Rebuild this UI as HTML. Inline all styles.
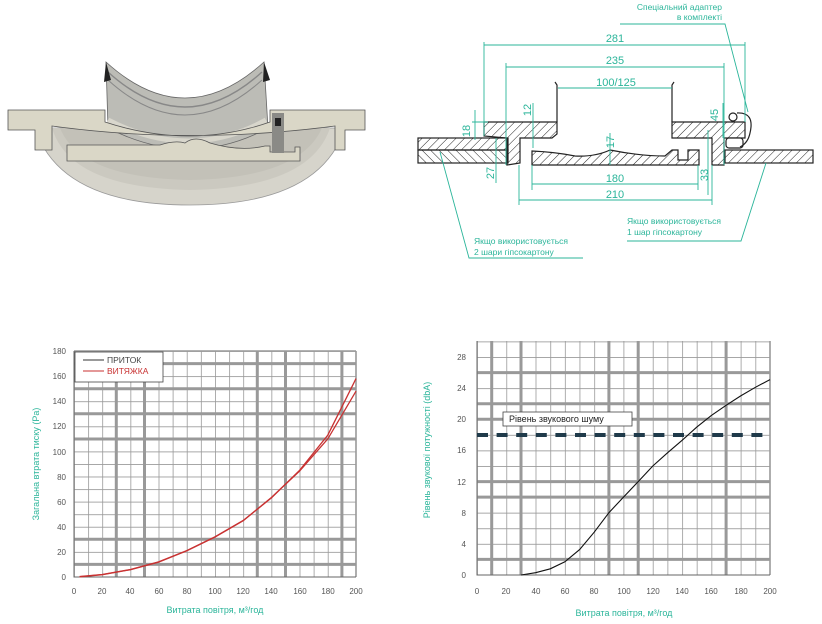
<!DOCTYPE html>
<html><head><meta charset="utf-8"><style>
html,body{margin:0;padding:0;background:#fff;width:822px;height:624px;overflow:hidden}
svg{display:block}
text{font-family:"Liberation Sans",sans-serif}
</style></head><body>
<svg width="822" height="624" viewBox="0 0 822 624" xmlns="http://www.w3.org/2000/svg">
<defs>
<pattern id="h" width="6" height="6" patternUnits="userSpaceOnUse" patternTransform="rotate(45)"><line x1="0" y1="0" x2="0" y2="6" stroke="#222" stroke-width="1"/></pattern>
<pattern id="h2" width="6" height="6" patternUnits="userSpaceOnUse" patternTransform="rotate(-45)"><line x1="0" y1="0" x2="0" y2="6" stroke="#222" stroke-width="1"/></pattern>
<pattern id="gl" x="74" y="351" width="14.1" height="12.556" patternUnits="userSpaceOnUse"><path d="M0 0V12.556M0 0H14.1" stroke="#999" stroke-width="1.6" fill="none"/></pattern>
<pattern id="gr" x="477" y="357" width="14.65" height="15.57" patternUnits="userSpaceOnUse"><path d="M0 0V15.57M0 0H14.65" stroke="#999" stroke-width="1.6" fill="none"/></pattern>
</defs>

<!-- 3D render -->
<g>
<path d="M35 128 Q60 205 190 205 Q320 205 345 128 Z" fill="#d6d4cb" stroke="#999" stroke-width="0.8"/>
<path d="M52 128 Q70 188 190 190 Q310 188 330 128Z" fill="#cbc9c0"/>
<path d="M60 128 Q80 178 190 180 Q300 178 322 128Z" fill="#c3c1b8"/>
<path d="M106 62 Q185 134 264 62 L268 128 Q190 170 108 128Z" fill="#bcbcb6" stroke="#666" stroke-width="0.8"/>
<path d="M108 72 Q185 142 262 72" stroke="#888" fill="none" stroke-width="1.4"/>
<path d="M108 80 Q185 150 262 80" stroke="#888" fill="none"/>
<path d="M108 120 Q190 162 266 120" stroke="#d8d6cc" fill="none" stroke-width="5"/>
<path d="M106 62 L104 82 L111 80Z M264 62 L270 80 L263 82Z" fill="#222"/>
<path d="M8 110 L105 110 L105 122 Q190 150 270 122 L270 110 L365 110 L365 130 L345 130 L345 150 L335 150 L335 126 Q190 145 52 126 L52 150 L35 150 L35 130 L8 130Z" fill="#dad7c7" stroke="#555" stroke-width="0.8"/>
<path d="M67 145 L160 145 Q175 140 185 143 Q195 135 210 143 Q240 152 265 146 L270 146 L270 152 L295 152 L295 147 L300 147 L300 161 L67 161Z" fill="#dad7c7" stroke="#555" stroke-width="0.8"/>
<rect x="272" y="113" width="12" height="40" fill="#8a8a86"/>
<rect x="275" y="118" width="6" height="8" fill="#222"/>
</g>

<!-- technical drawing -->
<g stroke="#222" stroke-width="1.2">
<rect x="418" y="138" width="90" height="12" fill="url(#h)"/>
<rect x="418" y="150" width="90" height="13" fill="url(#h2)"/>
<rect x="725" y="150" width="88" height="13" fill="url(#h)"/>
<path d="M484 122 L557 122 L557 134 L552 138 L520 138 L520 163 L507 165 L507 138 L484 136Z" fill="url(#h)"/>
<path d="M532 151 Q555 152 575 156 Q595 157 610 150 Q640 156 665 156 L672 150 L678 150 L678 160 L688 160 L688 150 L699 150 L699 165 L532 165Z" fill="url(#h)"/>
<path d="M672 122 L745 122 L745 138 L724 138 L724 165 L712 165 L712 138 L672 138Z" fill="url(#h)"/>
<rect x="726" y="138" width="17" height="10" rx="3" fill="#fff"/>
<circle cx="733" cy="117" r="4" fill="#fff"/>
<path d="M557 122 L557 85 L555 82 M672 122 L672 85 L674 82" fill="none"/>
<path d="M737 113 Q755 112 750 133 Q748 143 740 147" fill="none"/>
</g>
<g stroke="#2bb59a" stroke-width="0.9" fill="none">
<path d="M484 42V136M745 42V122M484 45H745"/>
<path d="M506 63V165M724 63V165M506 67H724"/>
<path d="M558 88H672"/>
<path d="M532 165V190M698 165V190M532 184H698"/>
<path d="M519 165V205M712 165V205M519 200H712"/>
<path d="M475 110V140M472 122H488M496 138V183M533 103V148M610 133V165M723 103V138M708 130V195"/>
<path d="M620 24H725L748 112"/>
<path d="M627 241H741L766 163"/>
<path d="M583 258H469L440 152"/>
</g>
<g fill="#2bb59a" font-size="11" text-anchor="middle">
<text x="615" y="42">281</text>
<text x="615" y="64">235</text>
<text x="616" y="86">100/125</text>
<text x="615" y="182">180</text>
<text x="615" y="198">210</text>
<text transform="translate(470,131) rotate(-90)">18</text>
<text transform="translate(531,110) rotate(-90)">12</text>
<text transform="translate(494,173) rotate(-90)">27</text>
<text transform="translate(614,142) rotate(-90)">17</text>
<text transform="translate(718,115) rotate(-90)">45</text>
<text transform="translate(708,175) rotate(-90)">33</text>
</g>
<g fill="#2bb59a" font-size="8.5">
<text x="722" y="10" text-anchor="end">Спеціальний адаптер</text>
<text x="722" y="20" text-anchor="end">в комплекті</text>
<text x="627" y="224">Якщо використовується</text>
<text x="627" y="235">1 шар гіпсокартону</text>
<text x="474" y="244">Якщо використовується</text>
<text x="474" y="255">2 шари гіпсокартону</text>
</g>

<!-- left chart -->
<rect x="74" y="351" width="282" height="226" fill="url(#gl)"/>
<g stroke="#999" stroke-width="3">
<path d="M116.3 351V577M144.5 351V577M257.3 351V577M285.5 351V577M341.9 351V577M74 363.6H356M74 388.7H356M74 413.8H356M74 439H356M74 539.3H356M74 564.4H356"/>
</g>
<path d="M356 351V577M74 351H356" stroke="#999" stroke-width="1.6" fill="none"/>
<path d="M74 351V577H356" stroke="#666" stroke-width="1" fill="none"/>
<rect x="75" y="352" width="88" height="30" fill="#fff" stroke="#444" stroke-width="0.8"/>
<line x1="83" y1="360" x2="104" y2="360" stroke="#333"/>
<line x1="83" y1="371" x2="104" y2="371" stroke="#c83232"/>
<text x="107" y="363" font-size="8.5" fill="#444">ПРИТОК</text>
<text x="107" y="374" font-size="8.5" fill="#c83232">ВИТЯЖКА</text>
<polyline fill="none" stroke="#c83232" stroke-width="1.3" points="79.6,576.5 102.2,574.5 130.4,569.5 158.6,561.9 186.8,550.6 215,536.8 243.2,520.5 271.4,497.9 299.6,470.3 327.8,435.1 356,378.6"/>
<polyline fill="none" stroke="#c83232" stroke-width="1.3" points="79.6,576.8 102.2,574.7 130.4,569.7 158.6,562.1 186.8,550.8 215,537 243.2,520.7 271.4,497.5 299.6,471 327.8,438.9 356,391.2"/>
<g font-size="8" fill="#555" text-anchor="end">
<text x="66" y="580">0</text><text x="66" y="555">20</text><text x="66" y="530">40</text><text x="66" y="505">60</text><text x="66" y="480">80</text><text x="66" y="455">100</text><text x="66" y="429">120</text><text x="66" y="404">140</text><text x="66" y="379">160</text><text x="66" y="354">180</text>
</g>
<g font-size="8" fill="#555" text-anchor="middle">
<text x="74" y="594">0</text><text x="102" y="594">20</text><text x="130" y="594">40</text><text x="159" y="594">60</text><text x="187" y="594">80</text><text x="215" y="594">100</text><text x="243" y="594">120</text><text x="271" y="594">140</text><text x="300" y="594">160</text><text x="328" y="594">180</text><text x="356" y="594">200</text>
</g>
<text x="215" y="613" font-size="9" fill="#2bb59a" text-anchor="middle">Витрата повітря, м³/год</text>
<text transform="translate(39,464) rotate(-90)" font-size="9" fill="#2bb59a" text-anchor="middle">Загальна втрата тиску (Pa)</text>

<!-- right chart -->
<rect x="477" y="341" width="293" height="234" fill="url(#gr)"/>
<g stroke="#999" stroke-width="3">
<path d="M491.7 341V575M521 341V575M608.9 341V575M638.2 341V575M726.1 341V575M477 372.6H770M477 403.7H770M477 419.3H770M477 481.6H770M477 497.1H770M477 559.4H770"/>
</g>
<path d="M770 341V575" stroke="#999" stroke-width="1.6"/>
<path d="M477 341V575H770" stroke="#666" stroke-width="1" fill="none"/>
<line x1="477" y1="435" x2="770" y2="435" stroke="#1f3a4a" stroke-width="4" stroke-dasharray="11 8.6"/>
<rect x="503" y="412" width="129" height="14" fill="#fff" stroke="#444" stroke-width="0.8"/>
<text x="509" y="422" font-size="9" fill="#222">Рівень звукового шуму</text>
<polyline fill="none" stroke="#111" stroke-width="1.1" points="521,575 535.6,572.7 550.3,568.8 564.9,561.8 579.6,549.6 594.2,532.2 608.9,512.7 623.5,497.1 638.2,481.6 652.8,466 667.5,452.8 682.1,440.3 696.8,427.1 711.4,415.4 726.1,405.3 740.7,395.9 755.4,387.3 770,379.6"/>
<g font-size="8" fill="#555" text-anchor="end">
<text x="466" y="578">0</text><text x="466" y="547">4</text><text x="466" y="516">8</text><text x="466" y="485">12</text><text x="466" y="453">16</text><text x="466" y="422">20</text><text x="466" y="391">24</text><text x="466" y="360">28</text>
</g>
<g font-size="8" fill="#555" text-anchor="middle">
<text x="477" y="594">0</text><text x="506" y="594">20</text><text x="536" y="594">40</text><text x="565" y="594">60</text><text x="594" y="594">80</text><text x="624" y="594">100</text><text x="653" y="594">120</text><text x="682" y="594">140</text><text x="711" y="594">160</text><text x="741" y="594">180</text><text x="770" y="594">200</text>
</g>
<text x="624" y="616" font-size="9" fill="#2bb59a" text-anchor="middle">Витрата повітря, м³/год</text>
<text transform="translate(430,450) rotate(-90)" font-size="9" fill="#2bb59a" text-anchor="middle">Рівень звукової потужності (dbA)</text>
</svg>
</body></html>
